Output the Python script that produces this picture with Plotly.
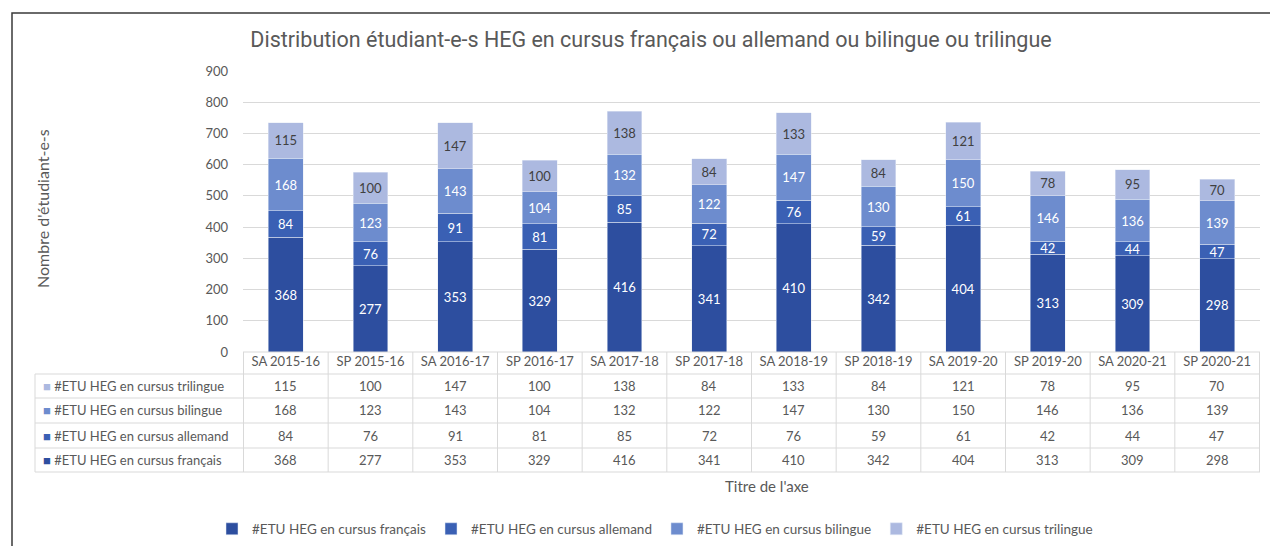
import plotly.graph_objects as go

categories = ["SA 2015-16", "SP 2015-16", "SA 2016-17", "SP 2016-17", "SA 2017-18", "SP 2017-18",
              "SA 2018-19", "SP 2018-19", "SA 2019-20", "SP 2019-20", "SA 2020-21", "SP 2020-21"]
francais = [368, 277, 353, 329, 416, 341, 410, 342, 404, 313, 309, 298]
allemand = [84, 76, 91, 81, 85, 72, 76, 59, 61, 42, 44, 47]
bilingue = [168, 123, 143, 104, 132, 122, 147, 130, 150, 146, 136, 139]
trilingue = [115, 100, 147, 100, 138, 84, 133, 84, 121, 78, 95, 70]

series = [
    ("#ETU HEG en cursus français", francais, "#2d4e9f", "white"),
    ("#ETU HEG en cursus allemand", allemand, "#3a60b4", "white"),
    ("#ETU HEG en cursus bilingue", bilingue, "#6d8cce", "white"),
    ("#ETU HEG en cursus trilingue", trilingue, "#acb9e0", "#404040"),
]

FONT = "Lato"
GREY = "#595959"
OFF = 8  # page body margin
W, H = 1278 - OFF, 546 - OFF
L, R, T, B = 243 - OFF, 18, 71 - OFF, 194
PH = H - T - B
PW = W - L - R


def px_x(px):
    return (px - OFF - L) / PW


def px_y(py):
    return (H - B - (py - OFF)) / PH


fig = go.Figure()
for name, vals, col, tcol in series:
    fig.add_bar(x=categories, y=vals, name=name, marker_color=col,
                text=vals, textposition="inside", insidetextanchor="middle", textangle=0,
                textfont=dict(color=tcol, size=13, family=FONT))

# table below the chart
row_y = [386, 410, 435.5, 460]
row_lines = [374, 398, 423, 448, 472]
shapes = []
shapes.append(dict(type="line", xref="paper", yref="paper", x0=0, x1=1,
                   y0=px_y(352), y1=px_y(352), line=dict(color="#d9d9d9", width=1)))
for ly in row_lines:
    shapes.append(dict(type="line", xref="paper", yref="paper", x0=px_x(35), x1=1,
                       y0=px_y(ly), y1=px_y(ly), line=dict(color="#d9d9d9", width=1)))
for i in range(len(categories) + 1):
    shapes.append(dict(type="line", xref="x", yref="paper", x0=i - 0.5, x1=i - 0.5,
                       y0=px_y(352), y1=px_y(472), line=dict(color="#d9d9d9", width=1)))
shapes.append(dict(type="line", xref="paper", yref="paper", x0=px_x(35), x1=px_x(35),
                   y0=px_y(374), y1=px_y(472), line=dict(color="#d9d9d9", width=1)))
# outer frame
shapes.append(dict(type="rect", xref="paper", yref="paper", x0=px_x(12), x1=px_x(1275),
                   y0=px_y(560), y1=px_y(13), line=dict(color="#3a3a3a", width=1.5)))

annotations = []
table_rows = list(reversed(series))
for (name, vals, col, tcol), ry in zip(table_rows, row_y):
    annotations.append(dict(xref="paper", yref="paper", x=px_x(41), y=px_y(ry),
                            xanchor="left", yanchor="middle", showarrow=False,
                            text=f'<span style="color:{col}">■</span> {name}',
                            font=dict(size=13, color=GREY, family=FONT)))
    for cat, v in zip(categories, vals):
        annotations.append(dict(xref="x", yref="paper", x=cat, y=px_y(ry),
                                xanchor="center", yanchor="middle", showarrow=False,
                                text=str(v), font=dict(size=13, color=GREY, family=FONT)))

annotations.append(dict(xref="paper", yref="paper", x=px_x(767), y=px_y(486), showarrow=False,
                        xanchor="center", yanchor="middle",
                        text="Titre de l'axe", font=dict(size=15, color=GREY, family=FONT)))
annotations.append(dict(xref="paper", yref="paper", x=px_x(42), y=px_y(209), showarrow=False,
                        xanchor="center", yanchor="middle",
                        textangle=-90, text="Nombre d'étudiant-e-s",
                        font=dict(size=16, color=GREY, family=FONT)))

fig.update_layout(
    width=W, height=H,
    margin=dict(l=L, r=R, t=T, b=B),
    paper_bgcolor="white", plot_bgcolor="white",
    barmode="stack", bargap=0.59,
    uniformtext=dict(minsize=13, mode="show"),
    title=dict(text="Distribution étudiant-e-s HEG en cursus français ou allemand ou bilingue ou trilingue",
               x=(651 - OFF) / W, xanchor="center", y=1 - (39 - OFF) / H, yanchor="middle",
               font=dict(size=21.5, color=GREY, family="Roboto")),
    xaxis=dict(showgrid=False, ticks="", tickfont=dict(size=13, color=GREY, family=FONT),
               showline=False, zeroline=False, automargin=False),
    yaxis=dict(range=[0, 900], dtick=100, gridcolor="#d9d9d9", zeroline=False, automargin=False,
               tickfont=dict(size=13, color=GREY, family=FONT), ticks="", ticklabelstandoff=14),
    legend=dict(orientation="h", xref="container", yref="container",
                x=(655 - OFF) / W, xanchor="center", y=1 - (529 - OFF) / H, yanchor="middle",
                font=dict(size=13.5, color=GREY, family=FONT), traceorder="normal"),
    shapes=shapes, annotations=annotations,
    font=dict(family=FONT, color=GREY),
)

fig.write_html("out.html")
